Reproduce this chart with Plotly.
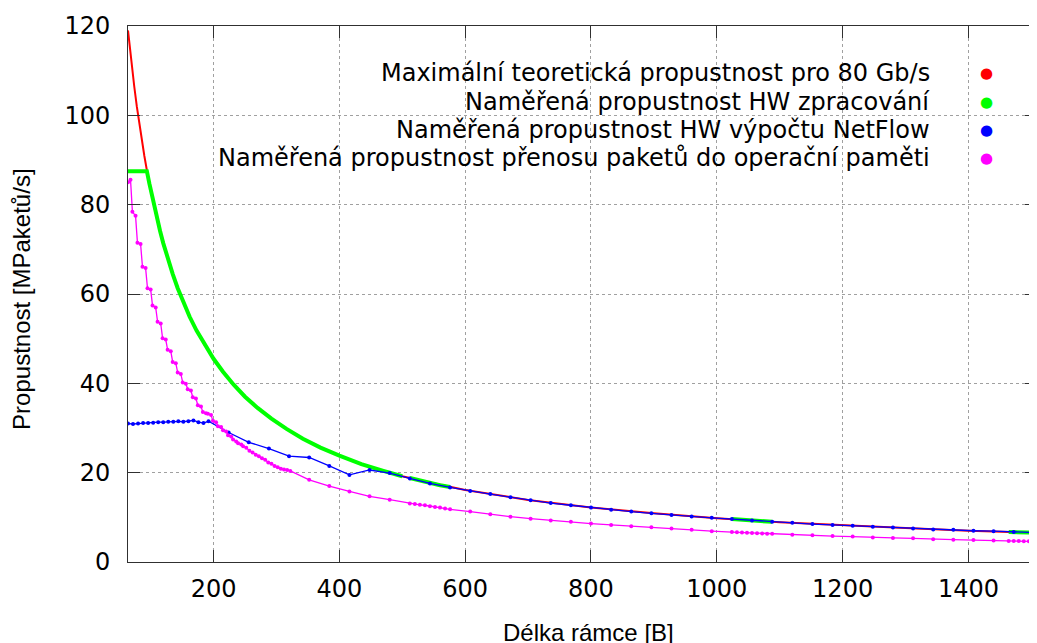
import plotly.graph_objects as go

# ---------------- data ----------------
# Maximální teoretická propustnost pro 80 Gb/s
red_x = [64, 67, 70, 74, 78, 82, 86, 90, 94, 98, 102, 106, 110, 115, 120, 127, 135, 143,
         152, 162, 173, 185, 200, 215, 232, 250, 270, 292, 316, 342, 370, 400, 435, 470,
         500, 540, 600, 700, 800, 900, 1000, 1100, 1200, 1300, 1400, 1518]
red_y = [119.0, 114.9, 111.1, 106.4, 102.0, 98.0, 94.3, 90.9, 87.7, 84.7, 82.0, 79.4, 76.9,
         74.1, 71.4, 68.0, 64.5, 61.3, 58.1, 54.9, 51.8, 48.8, 45.5, 42.6, 39.7, 37.0, 34.5,
         32.1, 29.8, 27.6, 25.6, 23.8, 21.9, 20.4, 19.2, 17.9, 16.1, 13.9, 12.2, 10.9, 9.8,
         8.9, 8.2, 7.6, 7.0, 6.5]

# Naměřená propustnost HW zpracování (dense measured ranges, None = gap)
green_x = [64, 94, 98, 102, 106, 110, 115, 120, 127, 135, 143, 152, 162, 173, 185, 200, 215,
           232, 250, 270, 292, 316, 342, 370, 400, 435, 470, 500,
           None, 512, 528, 544, 560, 576,
           None, 1024, 1040, 1056, 1072, 1088,
           None, 1464, 1480, 1496, 1518]
green_y = [87.5, 87.5, 84.7, 82.0, 79.4, 76.9, 74.1, 71.4, 68.0, 64.5, 61.3, 58.1, 54.9, 51.8,
           48.8, 45.5, 42.6, 39.7, 37.0, 34.5, 32.1, 29.8, 27.6, 25.6, 23.8, 21.9, 20.4, 19.2,
           None, 18.8, 18.2, 17.7, 17.2, 16.8,
           None, 9.6, 9.4, 9.3, 9.2, 9.0,
           None, 6.7, 6.6, 6.6, 6.5]

# Naměřená propustnost HW výpočtu NetFlow
blue_x = [64, 72, 80, 88, 96, 104, 112, 120, 128, 136, 144, 152, 160, 168, 176, 184, 192,
          224, 256, 288, 320, 352, 384, 416, 448, 480, 512, 544, 576, 608, 640, 672, 704,
          736, 768, 800, 832, 864, 896, 928, 960, 992, 1024, 1056, 1088, 1120, 1152, 1184,
          1216, 1248, 1280, 1312, 1344, 1376, 1408, 1440, 1472, 1504]
blue_y = [31.0, 30.9, 31.0, 31.1, 31.1, 31.2, 31.3, 31.3, 31.4, 31.4, 31.5, 31.4, 31.5, 31.7,
          31.3, 31.1, 31.5,
          29.0, 26.8, 25.4, 23.7, 23.4, 21.5, 19.5, 20.6, 19.9, 18.7, 17.6, 16.7, 15.9, 15.2,
          14.5, 13.8, 13.2, 12.7, 12.2, 11.7, 11.3, 10.9, 10.5, 10.2, 9.9, 9.6, 9.3, 9.0, 8.8,
          8.5, 8.3, 8.1, 7.9, 7.7, 7.5, 7.3, 7.2, 7.0, 6.9, 6.7, 6.6]

# Naměřená propustnost přenosu paketů do operační paměti
mag_x = [64, 68, 71, 76, 79, 84, 87, 92, 95, 100, 103, 108, 111, 116, 119, 124, 127, 132,
         135, 140, 143, 148, 151, 156, 159, 164, 167, 172, 175, 180, 183, 188, 191, 196,
         199, 204, 207, 212, 215, 220, 223, 228, 231, 236, 239, 244, 247, 252, 257, 262,
         267, 272, 277, 282, 287, 292, 297, 302, 307, 312, 317, 322,
         352, 384, 416, 448, 480, 512, 520, 528, 536, 544, 552, 560, 568, 576,
         608, 640, 672, 704, 736, 768, 800, 832, 864, 896, 928, 960, 992, 1024,
         1032, 1040, 1048, 1056, 1064, 1072, 1080, 1088, 1120, 1152, 1184, 1216, 1248,
         1280, 1312, 1344, 1376, 1408, 1440, 1464, 1472, 1480, 1488, 1496, 1504, 1512, 1518]
mag_y = [85.0, 85.6, 78.4, 77.5, 71.5, 71.2, 66.1, 65.8, 61.3, 61.0, 57.4, 57.0, 53.8, 53.4,
         50.1, 49.8, 47.5, 47.2, 44.8, 44.5, 42.4, 42.1, 40.2, 39.9, 38.7, 38.4, 36.9, 36.6,
         35.1, 34.8, 33.6, 33.3, 33.2, 32.9, 31.6, 31.3, 30.4, 30.2, 29.5, 29.2, 28.4, 28.1,
         27.4, 27.0, 26.6, 26.3, 25.9, 25.6, 24.9, 24.5, 24.0, 23.7, 23.2, 22.9, 22.3, 22.0,
         21.5, 21.2, 20.9, 20.7, 20.6, 20.4,
         18.4, 17.0, 15.8, 14.7, 13.95, 13.1, 13.0, 12.8, 12.7, 12.5, 12.3, 12.2, 12.0, 11.8,
         11.3, 10.7, 10.15, 9.7, 9.3, 9.0, 8.6, 8.3, 8.0, 7.8, 7.5, 7.2, 6.9, 6.7,
         6.65, 6.6, 6.55, 6.5, 6.45, 6.4, 6.35, 6.3, 6.1, 6.0, 5.8, 5.7, 5.5,
         5.4, 5.3, 5.1, 5.0, 4.9, 4.8, 4.72, 4.7, 4.68, 4.65, 4.62, 4.6, 4.57, 4.55]

series_names = ["Maximální teoretická propustnost pro 80 Gb/s",
                "Naměřená propustnost HW zpracování",
                "Naměřená propustnost HW výpočtu NetFlow",
                "Naměřená propustnost přenosu paketů do operační paměti"]
series_colors = ["#ff0000", "#00ff00", "#0000ff", "#ff00ff"]

x_ticks = [200, 400, 600, 800, 1000, 1200, 1400]
y_ticks = [0, 20, 40, 60, 80, 100, 120]
x_title = "Délka rámce [B]"
y_title = "Propustnost [MPaketů/s]"

FONT = "DejaVu Sans"
TITLE_FONT = "Liberation Sans"

fig = go.Figure()
fig.add_trace(go.Scatter(x=red_x, y=red_y, mode="lines", name=series_names[0],
                         line=dict(color=series_colors[0], width=2), showlegend=False))
fig.add_trace(go.Scatter(x=green_x, y=green_y, mode="lines", name=series_names[1],
                         line=dict(color=series_colors[1], width=4), connectgaps=False,
                         showlegend=False))
fig.add_trace(go.Scatter(x=blue_x, y=blue_y, mode="lines+markers", name=series_names[2],
                         line=dict(color=series_colors[2], width=1.3),
                         marker=dict(color=series_colors[2], size=4), showlegend=False))
fig.add_trace(go.Scatter(x=mag_x, y=mag_y, mode="lines+markers", name=series_names[3],
                         line=dict(color=series_colors[3], width=1.3),
                         marker=dict(color=series_colors[3], size=4), showlegend=False))

axis_common = dict(showline=True, linecolor="#303030", linewidth=1,
                   ticks="inside", ticklen=12, tickcolor="#303030", tickwidth=1,
                   showgrid=True, gridcolor="#a0a0a0", griddash="dot", gridwidth=1,
                   zeroline=False, tickfont=dict(family=FONT, size=24, color="black"))

fig.update_xaxes(range=[64, 1509], tickvals=x_ticks, mirror="ticks",
                 ticklabelstandoff=5, **axis_common)
fig.update_yaxes(range=[0, 120], tickvals=y_ticks, mirror="ticks",
                 ticklabelstandoff=12, **axis_common)

# legend drawn gnuplot-style: right-aligned text, dot on the right
legend_rows = [0.912, 0.858, 0.806, 0.754]
annotations = []
for name, col, yy in zip(series_names, series_colors, legend_rows):
    annotations.append(dict(x=0.8845, y=yy, xref="paper", yref="paper", text=name,
                            showarrow=False, xanchor="right", yanchor="middle",
                            font=dict(family=FONT, size=24, color="black")))
    annotations.append(dict(x=0.944, y=yy, xref="paper", yref="paper", text="●",
                            showarrow=False, xanchor="center", yanchor="middle",
                            font=dict(family=FONT, size=15, color=col)))
annotations.append(dict(x=0.507, y=-0.1306, xref="paper", yref="paper", text=x_title,
                        showarrow=False, xanchor="center", yanchor="middle",
                        font=dict(family=TITLE_FONT, size=24, color="black")))
annotations.append(dict(x=-0.1166, y=0.489, xref="paper", yref="paper", text=y_title,
                        showarrow=False, xanchor="center", yanchor="middle", textangle=-90,
                        font=dict(family=TITLE_FONT, size=24, color="black")))

# page body has an 8px margin: the figure is sized to fit the window
fig.update_layout(width=1029, height=635, margin=dict(l=120, r=0, t=18, b=81),
                  plot_bgcolor="white", paper_bgcolor="white",
                  font=dict(family=FONT), annotations=annotations, showlegend=False)

fig.write_html("out.html",
               post_script="document.documentElement.style.overflow='hidden';"
                           "document.body.style.overflow='hidden';")
